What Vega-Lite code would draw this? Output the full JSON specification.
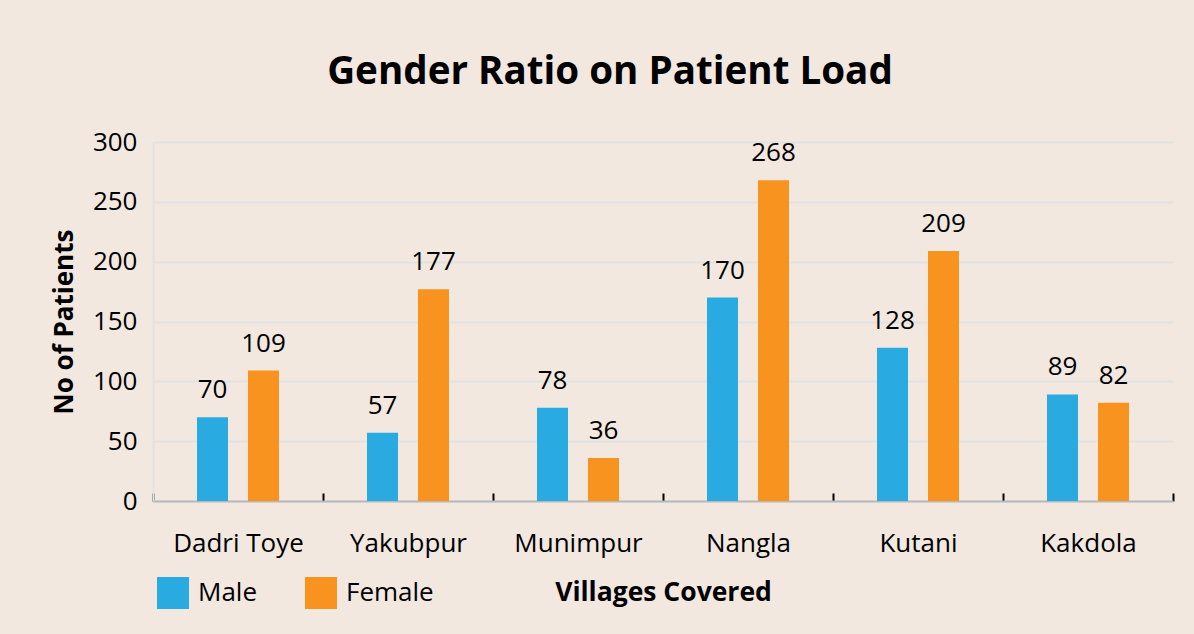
{
  "$schema": "https://vega.github.io/schema/vega-lite/v6.json",
  "width": 1020,
  "height": 359,
  "autosize": {"type": "none"},
  "padding": {"left": 153, "top": 142, "right": 21, "bottom": 133},
  "background": "#f2e8e0",
  "config": {
    "font": "Open Sans",
    "view": {"stroke": null},
    "text": {"font": "Open Sans"}
  },
  "title": {
    "text": "Gender Ratio on Patient Load",
    "fontSize": 38.6,
    "fontWeight": "bold",
    "color": "#000000",
    "font": "Open Sans",
    "anchor": "middle",
    "dx": -53,
    "offset": 36
  },
  "data": {
    "values": [
      {"village": "Dadri Toye", "gender": "Male", "patients": 70},
      {"village": "Dadri Toye", "gender": "Female", "patients": 109},
      {"village": "Yakubpur", "gender": "Male", "patients": 57},
      {"village": "Yakubpur", "gender": "Female", "patients": 177},
      {"village": "Munimpur", "gender": "Male", "patients": 78},
      {"village": "Munimpur", "gender": "Female", "patients": 36},
      {"village": "Nangla", "gender": "Male", "patients": 170},
      {"village": "Nangla", "gender": "Female", "patients": 268},
      {"village": "Kutani", "gender": "Male", "patients": 128},
      {"village": "Kutani", "gender": "Female", "patients": 209},
      {"village": "Kakdola", "gender": "Male", "patients": 89},
      {"village": "Kakdola", "gender": "Female", "patients": 82}
    ]
  },
  "encoding": {
    "x": {
      "field": "village",
      "type": "nominal",
      "sort": ["Dadri Toye", "Yakubpur", "Munimpur", "Nangla", "Kutani", "Kakdola"],
      "scale": {"paddingInner": 0, "paddingOuter": 0},
      "axis": {
        "title": "Villages Covered",
        "titleFontSize": 26.5,
        "titleFontWeight": "bold",
        "titleColor": "#000000",
        "titlePadding": 23,
        "labelAngle": 0,
        "labelFontSize": 26,
        "labelColor": "#000000",
        "labelPadding": 37,
        "domainColor": "#b8b8b8",
        "domainWidth": 2,
        "tickBand": "extent",
        "tickColor": "#000000",
        "tickWidth": 2,
        "tickSize": -8,
        "grid": false
      }
    },
    "xOffset": {
      "field": "gender",
      "type": "nominal",
      "sort": ["Male", "Female"],
      "scale": {"paddingInner": 0.392, "paddingOuter": 0.863}
    },
    "y": {
      "field": "patients",
      "type": "quantitative",
      "scale": {"domain": [0, 300], "nice": false},
      "axis": {
        "title": "No of Patients",
        "titleFontSize": 26,
        "titleFontWeight": "bold",
        "titleColor": "#000000",
        "titlePadding": 15,
        "values": [0, 50, 100, 150, 200, 250, 300],
        "labelFontSize": 26,
        "labelColor": "#000000",
        "labelPadding": 16,
        "ticks": false,
        "domainColor": "#e2e2e2",
        "domainWidth": 2,
        "gridColor": "#e2e2e2",
        "gridWidth": 2,
        "gridOpacity": 1
      }
    },
    "color": {
      "field": "gender",
      "type": "nominal",
      "scale": {"domain": ["Male", "Female"], "range": ["#29abe2", "#f7931e"]},
      "legend": {
        "title": null,
        "orient": "none",
        "legendX": 4,
        "legendY": 435,
        "direction": "horizontal",
        "symbolType": "square",
        "symbolSize": 1024,
        "symbolStrokeWidth": 0,
        "symbolOpacity": 1,
        "labelFontSize": 26,
        "labelColor": "#000000",
        "labelOffset": 9,
        "columnPadding": 48
      }
    }
  },
  "layer": [
    {"mark": {"type": "bar", "opacity": 1}},
    {
      "mark": {"type": "text", "baseline": "alphabetic", "dy": -19, "fontSize": 26, "color": "#000000"},
      "encoding": {
        "text": {"field": "patients", "type": "quantitative"},
        "color": {"value": "#000000"}
      }
    }
  ]
}
